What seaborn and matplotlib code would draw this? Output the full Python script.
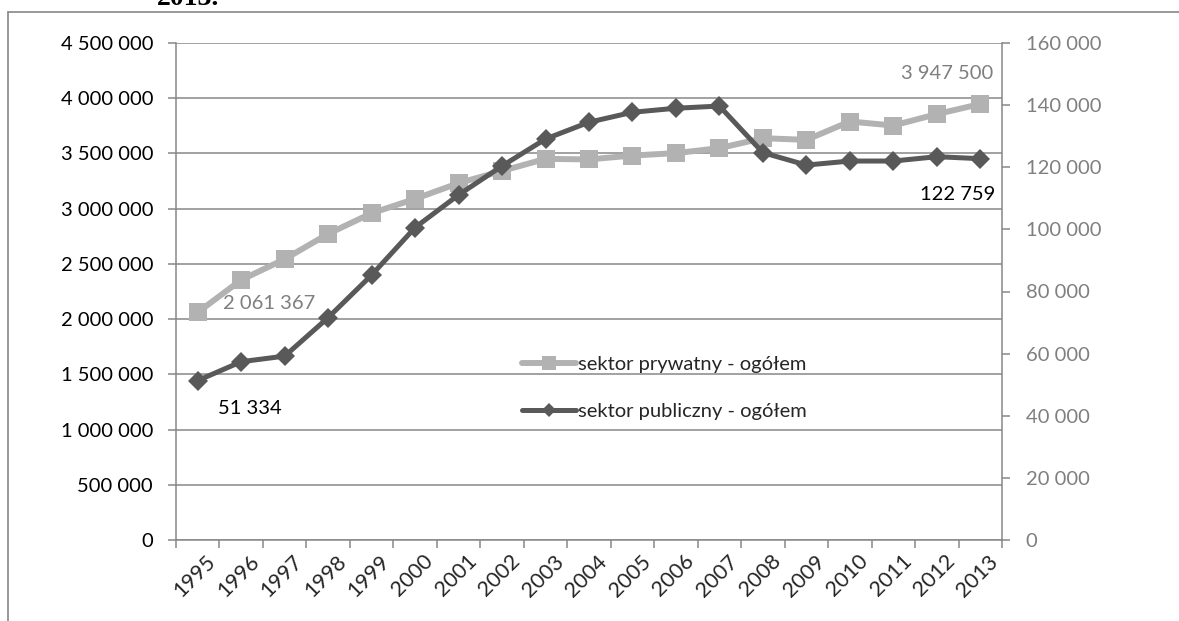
import matplotlib
matplotlib.use("Agg")
import matplotlib.pyplot as plt
import matplotlib.transforms as mtransforms
from matplotlib.ticker import FuncFormatter, FixedLocator, MultipleLocator
from matplotlib.lines import Line2D
import numpy as np
import pandas as pd
import seaborn as sns

# Employment by sector, 1995-2013
years = [str(y) for y in range(1995, 2014)]
private_total = [2061367, 2355000, 2543000, 2772000, 2959000, 3089000, 3231000,
                 3342000, 3451000, 3446000, 3481000, 3503000, 3548000, 3638000,
                 3623000, 3789000, 3753000, 3856000, 3947500]
public_total = [51334, 57400, 59200, 71600, 85300, 100600, 111100, 120400,
                129100, 134500, 137700, 139000, 139700, 124700, 120700, 122000,
                122000, 123400, 122759]
label_private = "sektor prywatny - ogółem"
label_public = "sektor publiczny - ogółem"

PRIVATE_C = "#B2B2B2"
PUBLIC_C = "#595959"
GRID_C = "#878787"
RIGHT_TXT = "#7F7F7F"
FS = 14.5

sns.set_theme(style="white")
plt.rcParams["font.family"] = ["Lato", "DejaVu Sans"]


def spaced(v, pos=None):
    return f"{int(round(v)):,}".replace(",", " ")


df = pd.DataFrame({"pos": np.arange(len(years)), "year": years,
                   "private": private_total, "public": public_total})

W, H = 1179, 621
fig = plt.figure(figsize=(W / 100, H / 100), dpi=100)
fig.patch.set_facecolor("white")

# outer frame around the chart
fig.add_artist(Line2D([8 / W, 1.0], [1 - 12 / H, 1 - 12 / H], color=GRID_C, lw=1.2))
fig.add_artist(Line2D([8 / W, 8 / W], [0, 1 - 12 / H], color=GRID_C, lw=1.2))
fig.text(188 / W, 1 - 5 / H, "2013.", ha="center", va="baseline", fontsize=20,
         fontweight="bold", family=["Liberation Serif", "DejaVu Serif"], color="black")

ax = fig.add_axes([176 / W, (H - 540) / H, (1002 - 176) / W, (540 - 43) / H])
ax2 = ax.twinx()

sns.lineplot(data=df, x="pos", y="private", ax=ax, color=PRIVATE_C, marker="s",
             markersize=13, markeredgewidth=0, linewidth=4.3, legend=False)
sns.lineplot(data=df, x="pos", y="public", ax=ax2, color=PUBLIC_C, marker="D",
             markersize=10, markeredgewidth=0, linewidth=3.6, legend=False)

# left axis
ax.set_ylim(0, 4500000)
ax.yaxis.set_major_locator(MultipleLocator(500000))
ax.yaxis.set_major_formatter(FuncFormatter(spaced))
ax.yaxis.grid(True, color=GRID_C, lw=1.1)
ax.set_axisbelow(True)
ax.tick_params(axis="y", direction="out", length=5.5, width=1.1, color=GRID_C,
               labelsize=FS, labelcolor="black", pad=11, left=True)

# right axis
ax2.set_ylim(0, 160000)
ax2.yaxis.set_major_locator(MultipleLocator(20000))
ax2.yaxis.set_major_formatter(FuncFormatter(spaced))
ax2.tick_params(axis="y", direction="out", length=6, width=1.1, color=GRID_C,
                labelsize=FS, labelcolor=RIGHT_TXT, pad=11, right=True)

# category axis: marks between categories, labels centred
ax.set_xlim(-0.5, len(years) - 0.5)
ax.xaxis.set_major_locator(FixedLocator(np.arange(-0.5, len(years), 1.0)))
ax.xaxis.set_major_formatter(FuncFormatter(lambda v, p: ""))
ax.xaxis.set_minor_locator(FixedLocator(np.arange(len(years))))
ax.set_xticklabels(years, minor=True)
ax.tick_params(axis="x", which="major", direction="out", length=5.5, width=1.1,
               color=GRID_C, bottom=True)
ax.tick_params(axis="x", which="minor", length=0, labelsize=15.5, pad=8, bottom=True)
shift = mtransforms.ScaledTranslation(8 / 100, 0, fig.dpi_scale_trans)
for lbl in ax.get_xticklabels(minor=True):
    lbl.set_rotation(45)
    lbl.set_rotation_mode("anchor")
    lbl.set_ha("right")
    lbl.set_va("top")
    lbl.set_transform(lbl.get_transform() + shift)

ax.set_xlabel("")
ax.set_ylabel("")
ax2.set_ylabel("")

for a in (ax, ax2):
    for s in a.spines.values():
        s.set_color(GRID_C)
        s.set_linewidth(1.1)
    a.spines["top"].set_visible(False)
ax.spines["right"].set_visible(False)
ax2.spines["left"].set_visible(False)
ax2.spines["bottom"].set_visible(False)

# value labels on first and last points
ax.annotate(spaced(private_total[0]), xy=(0, private_total[0]), xytext=(25, 9),
            textcoords="offset pixels", ha="left", va="center", color=RIGHT_TXT, fontsize=FS)
ax.annotate(spaced(private_total[-1]), xy=(len(years) - 1, private_total[-1]), xytext=(13, 31),
            textcoords="offset pixels", ha="right", va="center", color=RIGHT_TXT, fontsize=FS)
ax2.annotate(spaced(public_total[0]), xy=(0, public_total[0]), xytext=(20, -28),
             textcoords="offset pixels", ha="left", va="center", color="black", fontsize=FS)
ax2.annotate(spaced(public_total[-1]), xy=(len(years) - 1, public_total[-1]), xytext=(15, -36),
             textcoords="offset pixels", ha="right", va="center", color="black", fontsize=FS)

handles = [
    Line2D([], [], color=PRIVATE_C, lw=4.3, marker="s", markersize=10, markeredgewidth=0),
    Line2D([], [], color=PUBLIC_C, lw=3.6, marker="D", markersize=7, markeredgewidth=0),
]
ax2.legend(handles, [label_private, label_public], loc="upper left",
           bbox_to_anchor=(522 / W, 1 - 356 / H), bbox_transform=fig.transFigure,
           frameon=False, fontsize=FS, handlelength=2.7, handletextpad=0.1,
           labelspacing=1.5, borderpad=0, borderaxespad=0)

fig.savefig("out.png", dpi=100)
